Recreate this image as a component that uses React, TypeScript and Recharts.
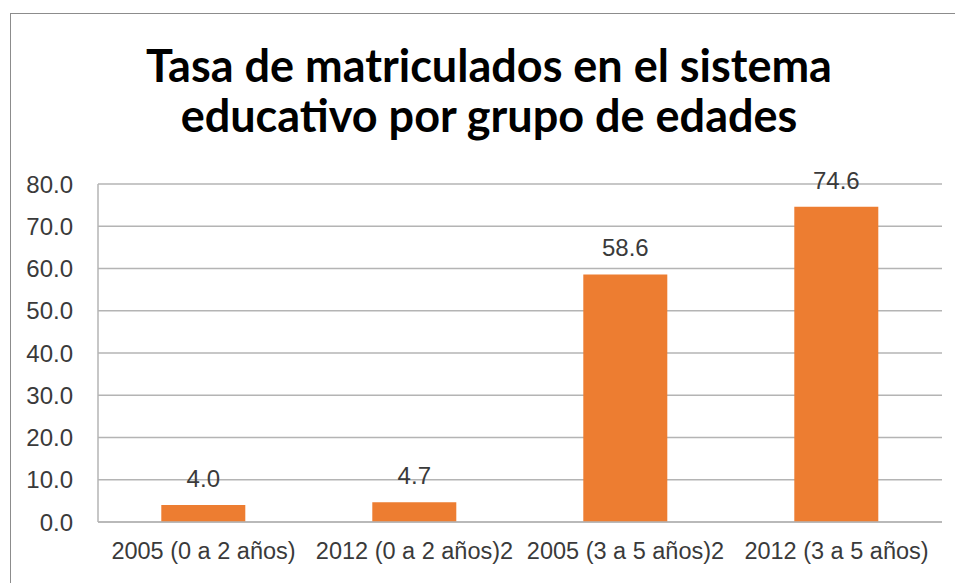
import React from 'react';
import { BarChart, Bar, XAxis, YAxis, CartesianGrid, LabelList } from 'recharts';

const categories = ['2005 (0 a 2 años)', '2012 (0 a 2 años)2', '2005 (3 a 5 años)2', '2012 (3 a 5 años)'];
const tasa = [4.0, 4.7, 58.6, 74.6];
const yTicks = [0, 10, 20, 30, 40, 50, 60, 70, 80];

const data = categories.map((name, i) => ({ name, tasa: tasa[i] }));

const GRID = '#b4b4b4';
const TEXT = '#3a3a3a';
const FONT = '"Liberation Sans", Arial, sans-serif';

export default function App() {
  return (
    <div style={{ position: 'fixed', left: 0, top: 0, width: 955, height: 583, background: '#fff', overflow: 'hidden' }}>
      {/* frame of the original slide */}
      <div
        style={{
          position: 'absolute',
          left: 10,
          top: 13,
          right: 0,
          bottom: 0,
          borderTop: '1px solid #8c8c8c',
          borderLeft: '1px solid #8c8c8c',
        }}
      />
      <div
        style={{
          position: 'absolute',
          left: 0,
          top: 40,
          width: 978,
          textAlign: 'center',
          fontFamily: 'Lato, sans-serif',
          fontWeight: 700,
          fontSize: 45,
          lineHeight: '50px',
          color: '#000',
        }}
      >
        Tasa de matriculados en el sistema
        <br />
        educativo por grupo de edades
      </div>
      <BarChart
        width={955}
        height={583}
        data={data}
        margin={{ top: 184, right: 13, bottom: 31, left: 0 }}
        barCategoryGap="30%"
        style={{ position: 'absolute', left: 0, top: 0 }}
      >
        <CartesianGrid vertical={false} stroke={GRID} strokeWidth={1.5} />
        <XAxis
          dataKey="name"
          tickLine={false}
          axisLine={{ stroke: GRID, strokeWidth: 1.5 }}
          tickMargin={14}
          interval={0}
          tick={{ fill: TEXT, fontSize: 23.5, fontFamily: FONT }}
        />
        <YAxis
          width={98}
          domain={[0, 80]}
          ticks={yTicks}
          tickFormatter={(v: number) => v.toFixed(1)}
          tickLine={false}
          axisLine={{ stroke: GRID, strokeWidth: 1.5 }}
          tickMargin={19}
          tick={{ fill: TEXT, fontSize: 24, fontFamily: FONT }}
        />
        <Bar dataKey="tasa" fill="#ed7d31" isAnimationActive={false}>
          <LabelList
            dataKey="tasa"
            position="top"
            offset={18}
            formatter={(v: number) => v.toFixed(1)}
            style={{ fill: TEXT, fontSize: 24, fontFamily: FONT }}
          />
        </Bar>
      </BarChart>
    </div>
  );
}
